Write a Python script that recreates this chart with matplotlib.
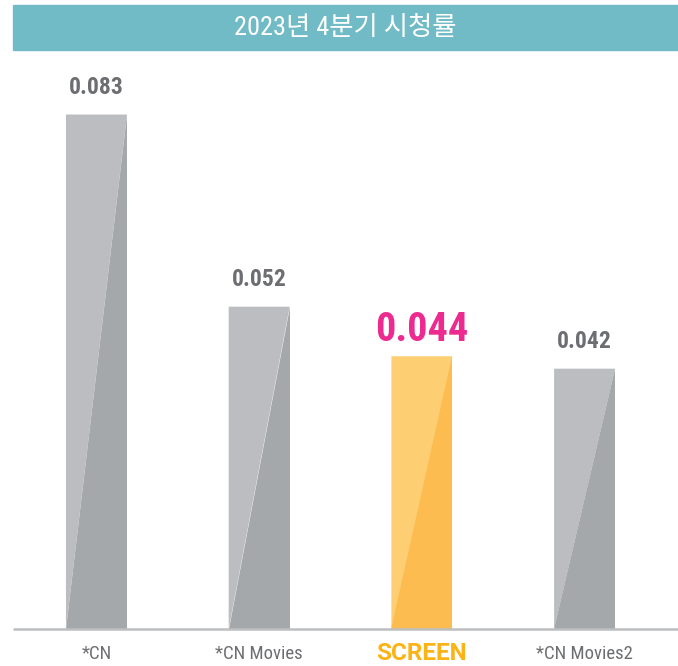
import matplotlib
matplotlib.use("Agg")
import matplotlib.pyplot as plt
from matplotlib.patches import Rectangle

# data
channels = ["*CN", "*CN Movies", "SCREEN", "*CN Movies2"]
ratings = [0.083, 0.052, 0.044, 0.042]
highlight = "SCREEN"
title = "2023년 4분기 시청률"

COND = "Roboto Condensed"
KR = "Noto Sans CJK KR"

GREY_L, GREY_D = "#bcbdc0", "#a5a8ab"
ORANGE_L, ORANGE_D = "#fdcf72", "#fdbc50"
TEAL = "#70bbc6"
TEXT_GREY = "#6d6e71"
PINK = "#ec2a8f"
GOLD = "#fbb417"

fig = plt.figure(figsize=(6.78, 6.66), dpi=100)
W, H = 678, 666
# axes spans px 13..678 horizontally, 60..629 vertically
ax = fig.add_axes([13 / W, (H - 629) / H, 665 / W, (629 - 60) / H])
ax.set_xlim(-0.513, 3.574)
ax.set_ylim(0, 0.0918)
ax.axis("off")

bw = 0.375
for i, (name, v) in enumerate(zip(channels, ratings)):
    lite, dark = (ORANGE_L, ORANGE_D) if name == highlight else (GREY_L, GREY_D)
    x0, x1 = i - bw / 2, i + bw / 2
    ax.fill([x0, x1, x0], [v, v, 0], color=lite, lw=0)        # upper-left half
    ax.fill([x1, x1, x0], [v, 0, 0], color=dark, lw=0)        # lower-right half
    if name == highlight:
        ax.annotate(f"{v:.3f}", (i, v), xytext=(0, 5), textcoords="offset points",
                    ha="center", va="bottom", color=PINK, fontsize=29,
                    fontweight="bold", family=COND)
        ax.annotate(name, (i, 0), xytext=(0, -18), textcoords="offset points",
                    ha="center", va="center", color=GOLD, fontsize=17.5,
                    fontweight="bold", family="Roboto", annotation_clip=False)
    else:
        ax.annotate(f"{v:.3f}", (i, v), xytext=(0, 11), textcoords="offset points",
                    ha="center", va="bottom", color=TEXT_GREY, fontsize=17,
                    fontweight="bold", family=COND)
        ax.annotate(name, (i, 0), xytext=(0, -18), textcoords="offset points",
                    ha="center", va="center", color=TEXT_GREY, fontsize=13.5,
                    family=COND, annotation_clip=False)

# baseline
ax.plot([-0.513, 3.574], [0, 0], color="#bcbec0", lw=1.8, clip_on=False,
        solid_capstyle="butt")

# title banner
fig.patches.append(Rectangle((13 / W, (H - 50) / H), 665 / W, 45 / H,
                             transform=fig.transFigure, color=TEAL, zorder=0))
fig.text((13 + 678) / 2 / W, 1 - 28 / H, title, ha="center", va="center",
         color="white", fontsize=19, family=[COND, KR, "DejaVu Sans"])

fig.savefig("out.png", dpi=100)
